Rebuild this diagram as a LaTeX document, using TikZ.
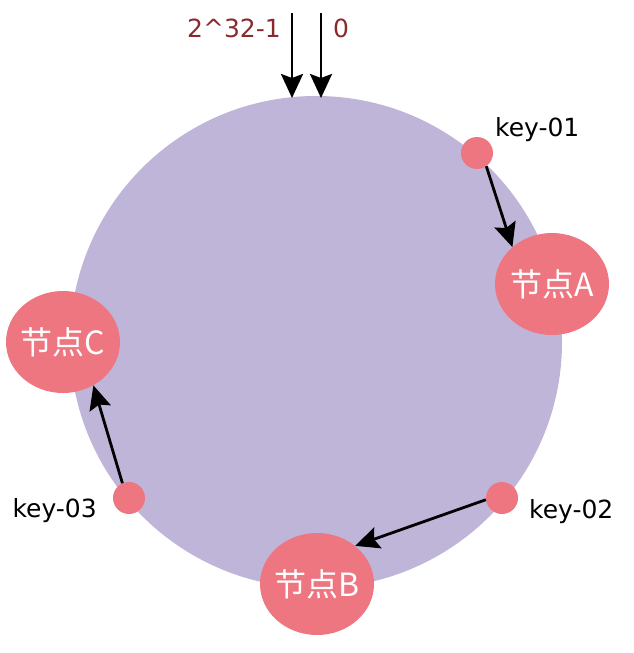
\documentclass[tikz,border=0pt]{standalone}
\usepackage{fontspec}
\setmainfont{DejaVu Sans}
\newfontfamily\cjkfont{Noto Sans CJK SC}
\usetikzlibrary{arrows.meta,shapes.geometric}
\definecolor{ringpurple}{HTML}{BFB5D9}
\definecolor{nodepink}{HTML}{EE7681}
\definecolor{labelred}{HTML}{8B2A2E}
\tikzset{
  px/.style={x=1pt,y=-1pt},
  server/.style={ellipse,fill=nodepink,minimum width=114pt,minimum height=102pt,inner sep=-12pt,text=white,font=\cjkfont\fontsize{32}{36}\selectfont},
  keydot/.style={circle,fill=nodepink,minimum size=32pt,inner sep=0pt},
  keylabel/.style={font=\fontsize{25}{30}\selectfont,text=black,inner sep=0pt},
  toplabel/.style={font=\fontsize{25}{30}\selectfont,text=labelred,inner sep=0pt},
  link/.style={draw=black,line width=2.8pt,-{Stealth[length=24pt,width=22pt,inset=4pt]}}
}
\begin{document}
\begin{tikzpicture}[px]
\useasboundingbox (0,0) rectangle (634,653);
\node[circle,fill=ringpurple,minimum size=492pt,inner sep=0pt] (ring) at (316,342) {};
% top arrows
\coordinate (maxs) at (292,13);
\coordinate (maxe) at (292,98);
\coordinate (zeros) at (321,13);
\coordinate (zeroe) at (321,98);
\draw[link] (maxs) -- (maxe);
\draw[link] (zeros) -- (zeroe);
\node[toplabel,anchor=east] (maxlab) at (281,28) {2\textasciicircum32-1};
\node[toplabel,anchor=west] (zerolab) at (333,28) {0};
% servers
\node[server] (A) at (552,284) {节点A};
\node[server] (B) at (317,584) {节点B};
\node[server] (C) at (63,342) {节点C};
% keys
\node[keydot] (k1) at (477,153) {};
\node[keydot] (k2) at (502,498) {};
\node[keydot] (k3) at (129,498) {};
\node[keylabel,anchor=west] (k1lab) at (495,130) {key-01};
\node[keylabel,anchor=west] (k2lab) at (529,512) {key-02};
\node[keylabel,anchor=east] (k3lab) at (97,511) {key-03};
% connectors
\draw[link] (k1.-55) -- (A.137);
\draw[link] (k2.186) -- (B.45);
\draw[link] (k3.114) -- (C.-55);
\end{tikzpicture}
\end{document}
